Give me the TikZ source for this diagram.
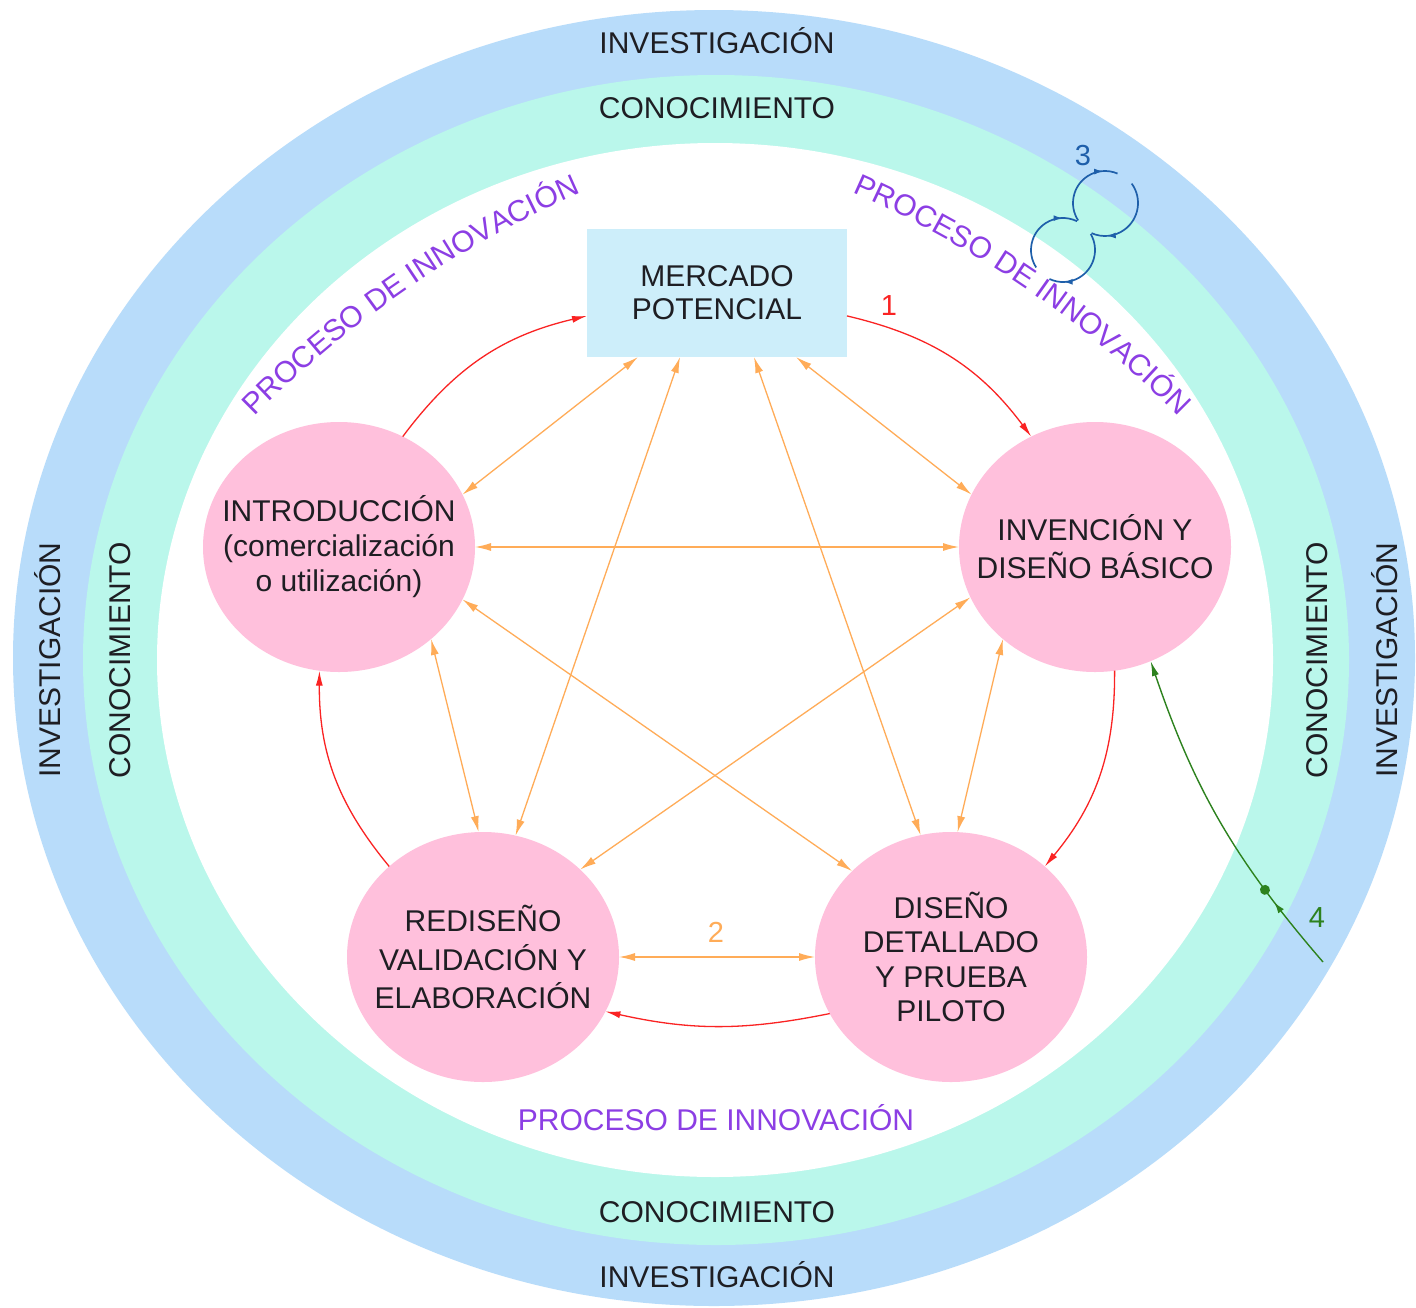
\documentclass[tikz,border=0pt]{standalone}
\usepackage{fontspec}
\setmainfont{Liberation Sans}
\usetikzlibrary{arrows.meta,shapes.geometric,decorations.text,decorations.markings}
\definecolor{ringblue}{RGB}{184,220,250}
\definecolor{ringcyan}{RGB}{186,247,235}
\definecolor{pinkfill}{RGB}{255,192,220}
\definecolor{boxfill}{RGB}{205,238,250}
\definecolor{purp}{RGB}{140,62,228}
\definecolor{orng}{RGB}{255,172,88}
\definecolor{redc}{RGB}{250,35,35}
\definecolor{swirlc}{RGB}{30,95,170}
\definecolor{greenc}{RGB}{45,130,30}
\definecolor{txtc}{RGB}{30,30,35}
\newcommand\labfont{\fontsize{30}{36}\selectfont}
\begin{document}
\begin{tikzpicture}[x=1pt,y=1pt,
  ringlabel/.style={font=\labfont, text=txtc, anchor=base, inner sep=0pt},
  numlabel/.style={font={\fontsize{29}{34}\selectfont}, anchor=base, inner sep=0pt},
  stage/.style={ellipse, fill=pinkfill, minimum width=272pt, minimum height=250pt, inner sep=0pt, outer sep=0pt},
  stagetext/.style={align=center, text=txtc, inner sep=0pt},
  marketbox/.style={rectangle, fill=boxfill, minimum width=260pt, minimum height=128pt, inner sep=0pt, outer sep=0pt, align=center, text=txtc, font={\fontsize{30}{33}\selectfont}},
  cyclearrow/.style={draw=redc, line width=1.3pt, arrows={-Latex[length=15pt,width=7pt]}},
  linkarrow/.style={draw=orng, line width=1.3pt, arrows={Latex[length=16pt,width=8pt]-Latex[length=16pt,width=8pt]}},
  swirlarc/.style={draw=swirlc, line width=1.7pt, postaction={decorate},
    decoration={markings, mark=at position 0.82 with {\arrow{Latex[length=9pt,width=6pt]}}}},
  curvetext/.style={decorate, decoration={text along path, text={|\labfont|PROCESO DE INNOVACIÓN}, text color=purp}}
]
\useasboundingbox (0,0) rectangle (1416,-1307);
\fill[white] (0,0) rectangle (1416,-1307);

% rings
\fill[ringblue] (714,-658) ellipse [x radius=701pt, y radius=648pt];
\fill[ringcyan] (716,-660) ellipse [x radius=633pt, y radius=585pt];
\fill[white] (715,-660) ellipse [x radius=558pt, y radius=517pt];

% ring labels
\node[ringlabel] (invtop) at (717,-53) {INVESTIGACIÓN};
\node[ringlabel] (contop) at (717,-118) {CONOCIMIENTO};
\node[ringlabel] (conbot) at (717,-1222) {CONOCIMIENTO};
\node[ringlabel] (invbot) at (717,-1287) {INVESTIGACIÓN};
\node[ringlabel, rotate=90] (invleft) at (60,-660) {INVESTIGACIÓN};
\node[ringlabel, rotate=90] (conleft) at (130,-660) {CONOCIMIENTO};
\node[ringlabel, rotate=90] (conright) at (1327,-660) {CONOCIMIENTO};
\node[ringlabel, rotate=90] (invright) at (1397,-660) {INVESTIGACIÓN};

% process labels
\node[ringlabel, text=purp] (procbot) at (716,-1130) {PROCESO DE INNOVACIÓN};
\path[curvetext] (998,-1150) ++(135.4:1044pt) arc[start angle=135.4, end angle=100, radius=1044pt];
\path[curvetext] (436,-1150) ++(66.5:1044pt) arc[start angle=66.5, end angle=30, radius=1044pt];

% stages
\node[marketbox] (merc) at (717,-293) {MERCADO\\POTENCIAL};
\node[stage, label={[stagetext, font={\fontsize{30}{35}\selectfont}]center:{INTRODUCCIÓN\\(comercialización\\o utilización)}}] (intro) at (339,-547) {};
\node[stage, label={[stagetext, font={\fontsize{30}{38}\selectfont}]center:{INVENCIÓN Y\\DISEÑO BÁSICO}}] (inv) at (1095,-547) {};
\node[stage, label={[stagetext, font={\fontsize{30}{38.5}\selectfont}]center:{REDISEÑO\\VALIDACIÓN Y\\ELABORACIÓN}}] (red) at (483,-957) {};
\node[stage, label={[stagetext, font={\fontsize{30}{34.5}\selectfont}]center:{DISEÑO\\DETALLADO\\Y PRUEBA\\PILOTO}}] (dis) at (951,-957) {};

% orange links
\draw[linkarrow] (merc.219) -- (intro.23);
\draw[linkarrow] (merc.240) -- (red.75);
\draw[linkarrow] (merc.300) -- (dis.104);
\draw[linkarrow] (merc.321) -- (inv.157);
\draw[linkarrow] (intro.east) -- (inv.west);
\draw[linkarrow] (intro.-23) -- (dis.139);
\draw[linkarrow] (intro.-45) -- (red.92);
\draw[linkarrow] (inv.202) -- (red.42);
\draw[linkarrow] (inv.225) -- (dis.87);
\draw[linkarrow] (red.east) -- (dis.west);

% red cycle
\draw[cyclearrow] (intro.60) to[bend left=20] (merc.190);
\draw[cyclearrow] (merc.350) to[bend left=20] (inv.120);
\draw[cyclearrow] (inv.-81) to[bend left=20] (dis.44);
\draw[cyclearrow] (dis.205) to[bend left=12] (red.-24);
\draw[cyclearrow] (red.136) to[bend left=20] (intro.261);

% swirl 3: two touching loops, each drawn as two arcs with gaps
\draw[swirlarc] (1105,-203) ++(213:32pt) arc[start angle=213, end angle=67, radius=32pt];
\draw[swirlarc] (1105,-203) ++(36:33pt) arc[start angle=36, end angle=-114, radius=33pt];
\draw[swirlarc] (1063,-250) ++(30:32pt) arc[start angle=30, end angle=-115, radius=32pt];
\draw[swirlarc] (1063,-250) ++(213:32pt) arc[start angle=213, end angle=64, radius=32pt];

% green 4
\coordinate (g4) at (1323,-962);
\draw[draw=greenc, line width=1.4pt, arrows={-Latex[length=15pt,width=7pt]}, postaction={decorate},
  decoration={markings,
    mark=at position 0.22 with {\arrow[greenc]{Latex[length=11pt,width=7pt]}},
    mark=at position 0.265 with {\fill[greenc] (0,0) circle (5pt);}}]
  (g4) to[bend left=11] (inv.-64);

% numbers
\node[numlabel, text=redc] (n1) at (889,-315) {1};
\node[numlabel, text=orng] (n2) at (716,-942) {2};
\node[numlabel, text=swirlc] (n3) at (1083,-165) {3};
\node[numlabel, text=greenc] (n4) at (1317,-927) {4};
\end{tikzpicture}
\end{document}
